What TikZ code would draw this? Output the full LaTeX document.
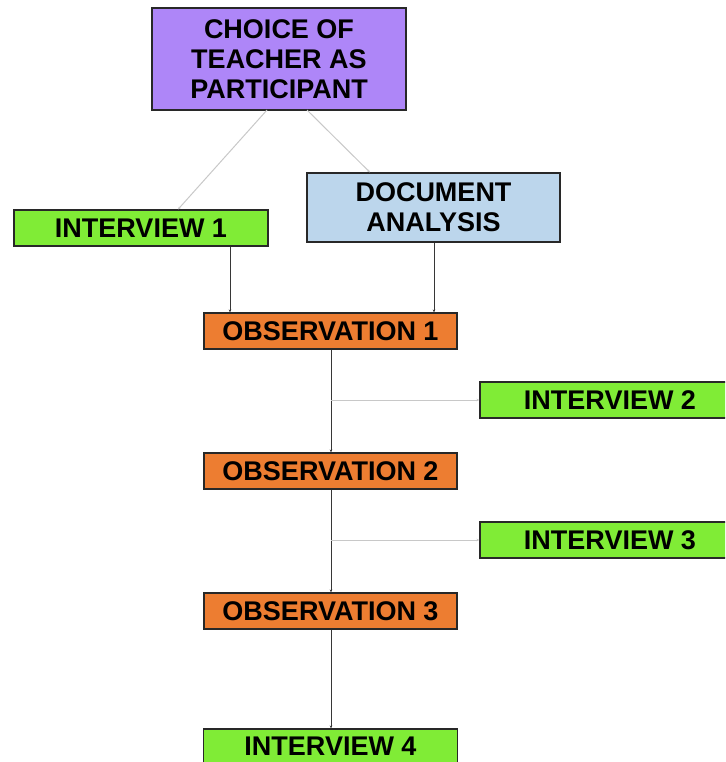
\documentclass[tikz,border=0pt]{standalone}
\usepackage{fontspec}
\setmainfont{Liberation Sans}
\usetikzlibrary{arrows.meta}
\definecolor{cpurple}{RGB}{174,134,248}
\definecolor{cgreen}{RGB}{128,236,54}
\definecolor{cblue}{RGB}{188,214,236}
\definecolor{corange}{RGB}{237,125,49}
\definecolor{cborder}{RGB}{40,40,40}
\definecolor{cdark}{RGB}{55,55,55}
\definecolor{clight}{RGB}{200,200,200}
\tikzset{
  box/.style={draw=cborder, line width=1.2pt, inner sep=0pt, align=center,
    font=\fontsize{27}{30}\selectfont\bfseries},
  greenbox/.style={box, fill=cgreen, minimum width=254pt, minimum height=36pt},
  orangebox/.style={box, fill=corange, minimum width=253pt, minimum height=36pt},
  darkline/.style={draw=cdark, line width=1pt, -{Stealth[length=3pt,width=2.5pt]}},
  lightline/.style={draw=clight, line width=1pt, -{Stealth[length=3pt,width=2.5pt]}}
}
\begin{document}
\begin{tikzpicture}[x=1pt,y=-1pt]
\useasboundingbox (0,0) rectangle (725,762);
\clip (0,0) rectangle (725,762);
\node[box, fill=cpurple, minimum width=254pt, minimum height=102pt] (choice) at (279,59) {\raisebox{-1.5pt}{\parbox{250pt}{\centering CHOICE OF\\TEACHER AS\\PARTICIPANT}}};
\node[greenbox] (int1) at (141,228) {INTERVIEW 1};
\node[box, fill=cblue, minimum width=253pt, minimum height=69pt] (doc) at (433.5,207.5) {DOCUMENT\\ANALYSIS};
\node[orangebox] (obs1) at (330.5,331) {OBSERVATION 1};
\node[greenbox, minimum width=260pt] (int2) at (610,400) {INTERVIEW 2};
\node[orangebox] (obs2) at (330.5,471) {OBSERVATION 2};
\node[greenbox, minimum width=260pt] (int3) at (610,540) {INTERVIEW 3};
\node[orangebox] (obs3) at (330.5,611) {OBSERVATION 3};
\node[greenbox, minimum height=34pt] (int4) at (330.5,746) {\raisebox{-1pt}{INTERVIEW 4}};
\coordinate (b2) at (331,400);
\coordinate (b3) at (331,540);
\draw[lightline] (267,110) -- (int1.north -| 178,0);
\draw[lightline] (307,110) -- (doc.north -| 370,0);
\draw[darkline] (int1.south -| 230,0) -- (obs1.north -| 230,0);
\draw[darkline] (doc.south -| 434,0) -- (obs1.north -| 434,0);
\draw[darkline] (obs1.south -| 331,0) -- (obs2.north -| 331,0);
\draw[darkline] (obs2.south -| 331,0) -- (obs3.north -| 331,0);
\draw[darkline] (obs3.south -| 331,0) -- (int4.north -| 331,0);
\draw[lightline] (b2) -- (int2.west);
\draw[lightline] (b3) -- (int3.west);
\end{tikzpicture}
\end{document}
